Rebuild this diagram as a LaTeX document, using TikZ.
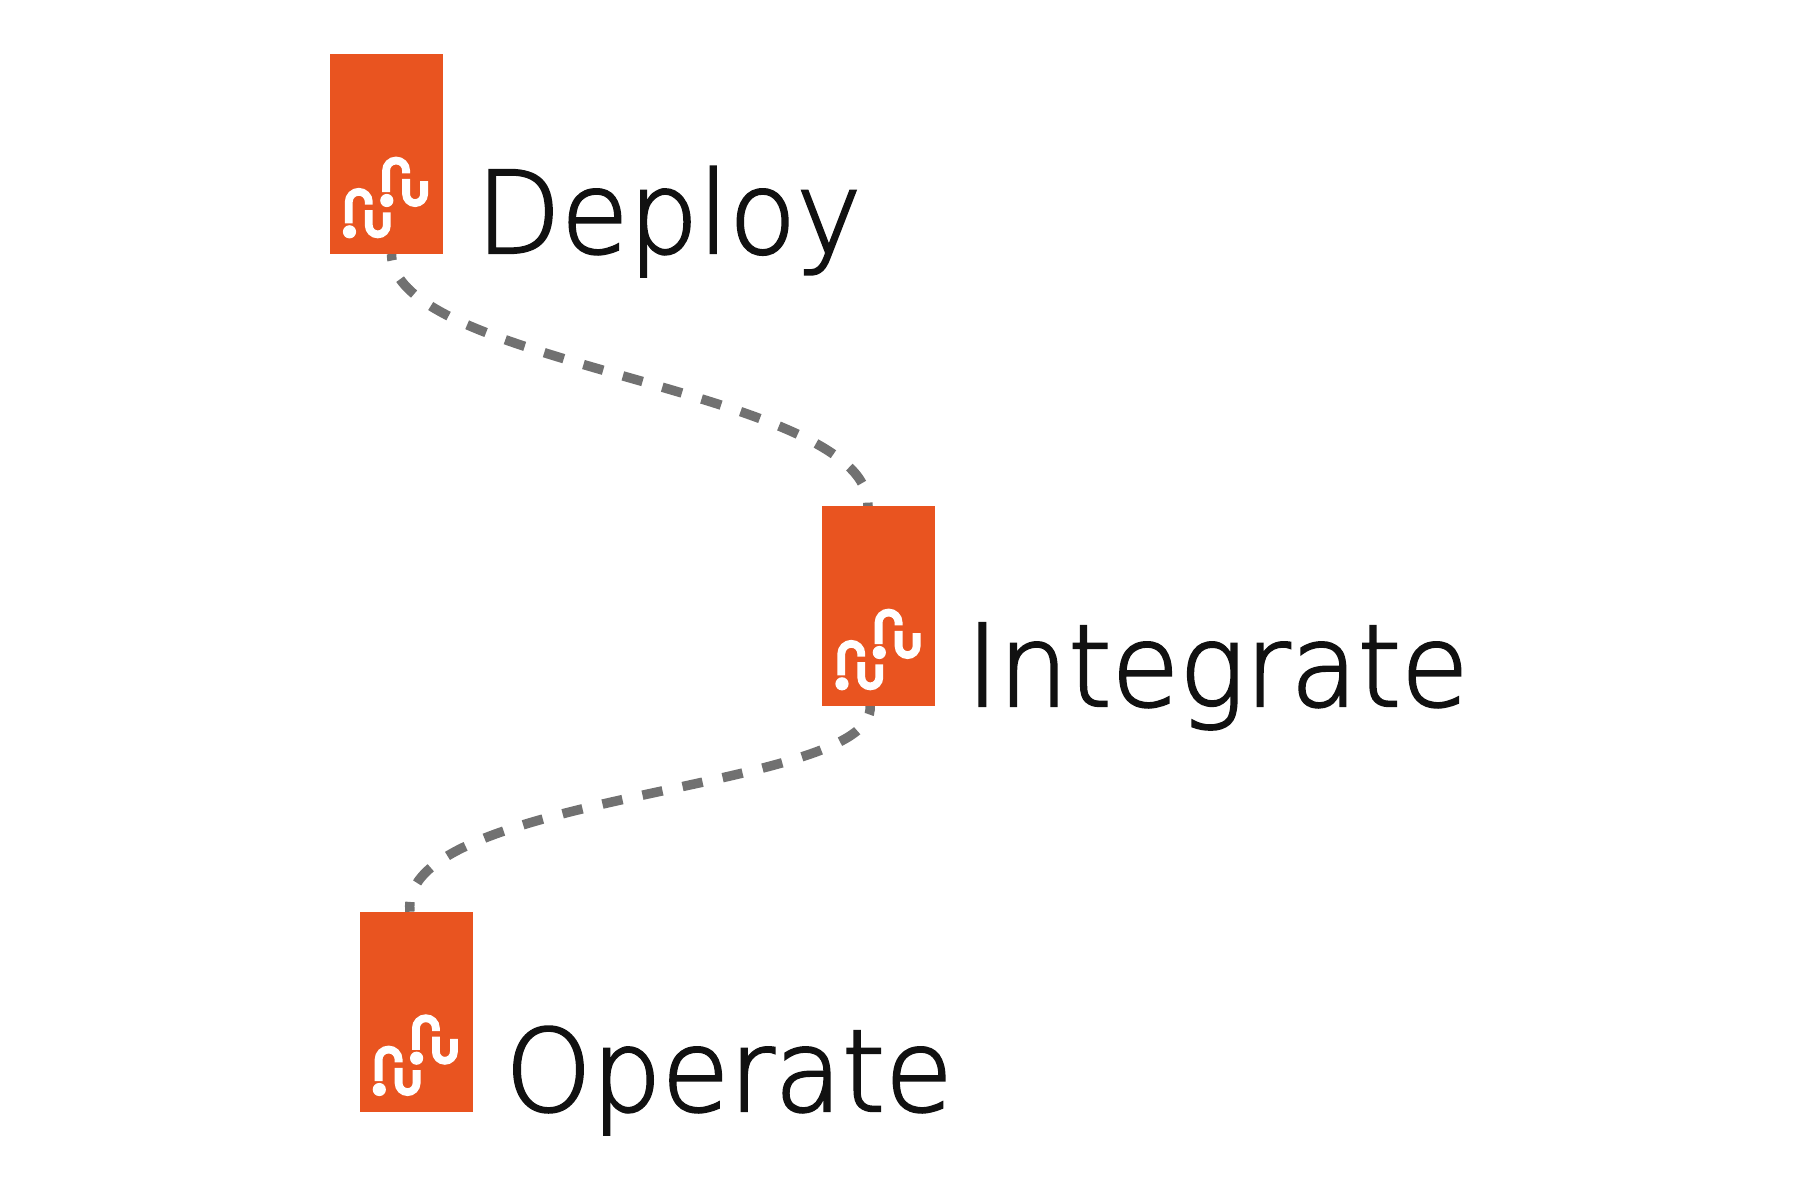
\documentclass[tikz,border=0pt]{standalone}
\usepackage{fontspec}
\setmainfont{DejaVu Sans}[UprightFont=* ExtraLight,FakeStretch=0.965,FakeBold=2]
\usetikzlibrary{calc}
\definecolor{brand}{HTML}{E95420}
\definecolor{ink}{HTML}{111111}
\definecolor{link}{HTML}{717171}
\tikzset{
  stagebox/.style={fill=brand,draw=none,inner sep=0pt,minimum width=113pt,minimum height=199.7pt,anchor=north west},
  stagelabel/.style={anchor=base west,inner sep=0pt,text=ink,font=\fontsize{114}{114}\selectfont},
  linkline/.style={draw=link,line width=9.5pt,dash pattern=on 20.5pt off 20.5pt},
  logostroke/.style={draw=white,line width=7.8pt},
  logo/.pic={
    \foreach \dx/\dy in {0/0,37.3/-31.3}{
      \begin{scope}[shift={(\dx,\dy)}]
      \draw[logostroke] (19.3,-30.7) -- (19.3,-52.3) arc (180:360:10) -- (39.3,-49.5);
      \draw[logostroke] (39.3,-44) -- (39.3,-28.7) arc (180:0:9) -- (57.3,-41.7);
      \fill[white] (20,-22.3) circle (6.6);
      \end{scope}
    }
  }
}
\begin{document}
\begin{tikzpicture}[x=1pt,y=-1pt]
\useasboundingbox (0,0) rectangle (1800,1197);
\coordinate (s1) at (391.5,254);
\coordinate (e1) at (868,506);
\coordinate (s2) at (870,706);
\coordinate (e2) at (410,911.7);
\draw[linkline,dash phase=14pt] (s1) .. controls (392,367) and (870,388) .. (e1);
\draw[linkline,dash phase=12pt] (s2) .. controls (878,792) and (396,792) .. (e2);
\node[stagebox] (deploy) at (329.5,54) {};
\node[stagebox] (integrate) at (822,506) {};
\node[stagebox] (operate) at (359.3,911.7) {};
\pic at (deploy.south west) {logo};
\pic at (integrate.south west) {logo};
\pic at (operate.south west) {logo};
\node[stagelabel] (deploytext) at (476,253) {Deploy};
\node[stagelabel] (integratetext) at (966,706) {Integrate};
\node[stagelabel] (operatetext) at (505,1111) {Operate};
\end{tikzpicture}
\end{document}
